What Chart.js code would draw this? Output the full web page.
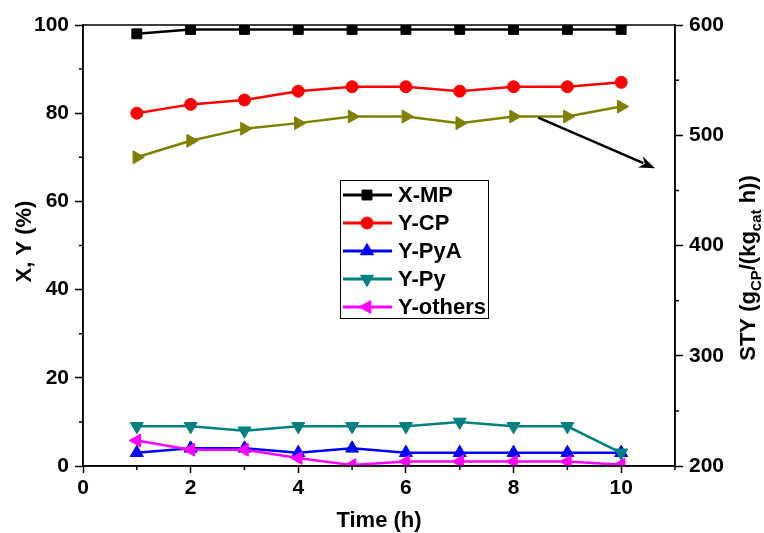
<!DOCTYPE html>
<html>
<head>
<meta charset="utf-8">
<script src="https://cdn.jsdelivr.net/npm/chart.js@4.4.0/dist/chart.umd.min.js"></script>
<style>
  html, body { margin: 0; padding: 0; background: #fff; }
</style>
</head>
<body>
<canvas id="myChart" width="764" height="533"></canvas>
<script>
// values
const timeH   = [1, 2, 3, 4, 5, 6, 7, 8, 9, 10];
const xMP     = [98, 99, 99, 99, 99, 99, 99, 99, 99, 99];
const yCP     = [80, 82, 83, 85, 86, 86, 85, 86, 86, 87];
const yPyA    = [3, 4, 4, 3, 4, 3, 3, 3, 3, 3];
const yPy     = [9, 9, 8, 9, 9, 9, 10, 9, 9, 3];
const yOthers = [5.8, 3.7, 3.7, 1.8, 0.2, 1, 1, 1, 1, 0.3];
const sty     = [480, 495, 506, 511, 517, 517, 511, 517, 517, 526];

const xTicks = [0, 2, 4, 6, 8, 10];
const xMinor = [1, 3, 5, 7, 9, 11];
const leftTicks = [0, 20, 40, 60, 80, 100];
const leftMinor = [10, 30, 50, 70, 90];
const rightTicks = [200, 300, 400, 500, 600];
const rightMinor = [250, 350, 450, 550];

// arrow pointing from the STY curve to the right axis (time, STY)
const arrowFrom = [8.46, 516];
const arrowTo = [10.63, 470];

const FONT = "'Liberation Sans', Arial, sans-serif";
const tickFont = { family: FONT, size: 21, weight: 'bold' };

function pts(arr) {
    return timeH.map((t, i) => ({ x: t, y: arr[i] }));
}

function series(label, data, color, style, rot, radius, order, axis) {
    return {
        label: label,
        data: pts(data),
        borderColor: color,
        backgroundColor: color,
        pointBackgroundColor: color,
        pointBorderColor: color,
        pointBorderWidth: 1,
        pointStyle: style,
        pointRotation: rot,
        pointRadius: radius,
        borderWidth: 2.5,
        tension: 0,
        order: order,
        yAxisID: axis || 'y'
    };
}

const datasets = [
    series('X-MP', xMP, '#000000', 'rect', 0, 7, 6),
    series('Y-CP', yCP, '#ff0000', 'circle', 0, 6, 5),
    series('Y-PyA', yPyA, '#0000ff', 'triangle', 0, 7.5, 4),
    series('Y-Py', yPy, '#008080', 'triangle', 180, 7.5, 3),
    series('Y-others', yOthers, '#ff00ff', 'triangle', 270, 7.5, 2),
    series('STY', sty, '#808000', 'triangle', 90, 7.5, 7, 'y2')
];
const legendCount = 5;

function drawMarker(ctx, ds, x, y) {
    ctx.fillStyle = ds.pointBackgroundColor;
    ctx.strokeStyle = ds.pointBorderColor;
    ctx.lineWidth = 1;
    if (Chart.helpers && Chart.helpers.drawPoint) {
        Chart.helpers.drawPoint(ctx, {
            pointStyle: ds.pointStyle, rotation: ds.pointRotation,
            radius: ds.pointRadius, borderWidth: 1
        }, x, y);
    } else {
        ctx.beginPath();
        ctx.arc(x, y, ds.pointRadius, 0, Math.PI * 2);
        ctx.fill();
    }
}

function drawRotated(ctx, parts, x, y) {
    // parts: [text, isSub]
    ctx.save();
    ctx.translate(x, y);
    ctx.rotate(-Math.PI / 2);
    ctx.textBaseline = 'alphabetic';
    ctx.textAlign = 'left';
    let total = 0;
    parts.forEach(p => {
        ctx.font = p[1] ? 'bold 15px ' + FONT : 'bold 22px ' + FONT;
        total += ctx.measureText(p[0]).width;
    });
    let cx = -total / 2;
    parts.forEach(p => {
        ctx.font = p[1] ? 'bold 15px ' + FONT : 'bold 22px ' + FONT;
        ctx.fillText(p[0], cx, p[1] ? 6 : 0);
        cx += ctx.measureText(p[0]).width;
    });
    ctx.restore();
}

const decorations = {
    id: 'decorations',
    afterDraw(chart) {
        const ctx = chart.ctx;
        const a = chart.chartArea;
        const sx = chart.scales.x, sy = chart.scales.y, sy2 = chart.scales.y2;
        ctx.save();
        ctx.strokeStyle = '#000';
        ctx.lineWidth = 1.5;
        ctx.strokeRect(a.left, a.top, a.right - a.left, a.bottom - a.top);

        // minor ticks
        ctx.beginPath();
        xMinor.forEach(v => {
            const px = sx.getPixelForValue(v);
            ctx.moveTo(px, a.bottom); ctx.lineTo(px, a.bottom + 4);
        });
        leftMinor.forEach(v => {
            const py = sy.getPixelForValue(v);
            ctx.moveTo(a.left, py); ctx.lineTo(a.left - 4, py);
        });
        rightMinor.forEach(v => {
            const py = sy2.getPixelForValue(v);
            ctx.moveTo(a.right, py); ctx.lineTo(a.right + 4, py);
        });
        ctx.stroke();

        // arrow
        const x1 = sx.getPixelForValue(arrowFrom[0]), y1 = sy2.getPixelForValue(arrowFrom[1]);
        const x2 = sx.getPixelForValue(arrowTo[0]), y2 = sy2.getPixelForValue(arrowTo[1]);
        const ang = Math.atan2(y2 - y1, x2 - x1);
        const hl = 16, hw = 6;
        ctx.lineWidth = 2.5;
        ctx.beginPath();
        ctx.moveTo(x1, y1);
        ctx.lineTo(x2 - Math.cos(ang) * hl * 0.8, y2 - Math.sin(ang) * hl * 0.8);
        ctx.stroke();
        ctx.fillStyle = '#000';
        ctx.beginPath();
        ctx.moveTo(x2, y2);
        ctx.lineTo(x2 - Math.cos(ang) * hl + Math.sin(ang) * hw, y2 - Math.sin(ang) * hl - Math.cos(ang) * hw);
        ctx.lineTo(x2 - Math.cos(ang) * hl * 0.7, y2 - Math.sin(ang) * hl * 0.7);
        ctx.lineTo(x2 - Math.cos(ang) * hl - Math.sin(ang) * hw, y2 - Math.sin(ang) * hl + Math.cos(ang) * hw);
        ctx.closePath();
        ctx.fill();

        // legend box
        ctx.lineWidth = 1;
        ctx.strokeStyle = '#000';
        ctx.strokeRect(340.5, 180.5, 148, 138);
        ctx.font = 'bold 22px ' + FONT;
        ctx.textBaseline = 'middle';
        ctx.textAlign = 'left';
        for (let i = 0; i < legendCount; i++) {
            const ds = chart.data.datasets[i];
            const ly = 195 + i * 28;
            ctx.strokeStyle = ds.borderColor;
            ctx.lineWidth = 3;
            ctx.beginPath();
            ctx.moveTo(343, ly); ctx.lineTo(392, ly);
            ctx.stroke();
            drawMarker(ctx, ds, 367, ly);
            ctx.fillStyle = '#000';
            ctx.fillText(ds.label, 398, ly + 1);
        }

        // axis titles
        ctx.fillStyle = '#000';
        ctx.font = 'bold 22px ' + FONT;
        ctx.textAlign = 'center';
        ctx.textBaseline = 'alphabetic';
        ctx.fillText('Time (h)', (a.left + a.right) / 2, 527);
        drawRotated(ctx, [['X, Y (%)', false]], 31, (a.top + a.bottom) / 2 - 4);
        drawRotated(ctx, [['STY (g', false], ['CP', true], ['/(kg', false], ['cat', true], [' h))', false]], 755, 268);
        ctx.restore();
    }
};

const ctx = document.getElementById("myChart").getContext("2d");
window.myChart = new Chart(ctx, {
    type: 'line',
    data: { datasets: datasets },
    options: {
        responsive: false,
        animation: false,
        devicePixelRatio: 1,
        layout: { padding: { top: 25, left: 0, right: 0, bottom: 0 } },
        plugins: { legend: { display: false }, tooltip: { enabled: false } },
        scales: {
            x: {
                type: 'linear', min: 0, max: 11,
                afterBuildTicks: s => { s.ticks = xTicks.map(v => ({ value: v })); },
                afterFit: s => { s.height = 67; },
                ticks: { font: tickFont, color: '#000', padding: 3, maxRotation: 0, autoSkip: false },
                grid: { drawOnChartArea: false, tickLength: 7, tickWidth: 1.5, tickColor: '#000' },
                border: { display: true, color: '#000', width: 1.5 }
            },
            y: {
                position: 'left', min: 0, max: 100,
                afterBuildTicks: s => { s.ticks = leftTicks.map(v => ({ value: v })); },
                afterFit: s => { s.width = 83; },
                ticks: { font: tickFont, color: '#000', padding: 6, autoSkip: false },
                grid: { drawOnChartArea: false, tickLength: 8, tickWidth: 1.5, tickColor: '#000' },
                border: { display: true, color: '#000', width: 1.5 }
            },
            y2: {
                position: 'right', min: 200, max: 600,
                afterBuildTicks: s => { s.ticks = rightTicks.map(v => ({ value: v })); },
                afterFit: s => { s.width = 89; },
                ticks: { font: tickFont, color: '#000', padding: 6, autoSkip: false },
                grid: { drawOnChartArea: false, tickLength: 8, tickWidth: 1.5, tickColor: '#000' },
                border: { display: true, color: '#000', width: 1.5 }
            }
        }
    },
    plugins: [decorations]
});
</script>
</body>
</html>
